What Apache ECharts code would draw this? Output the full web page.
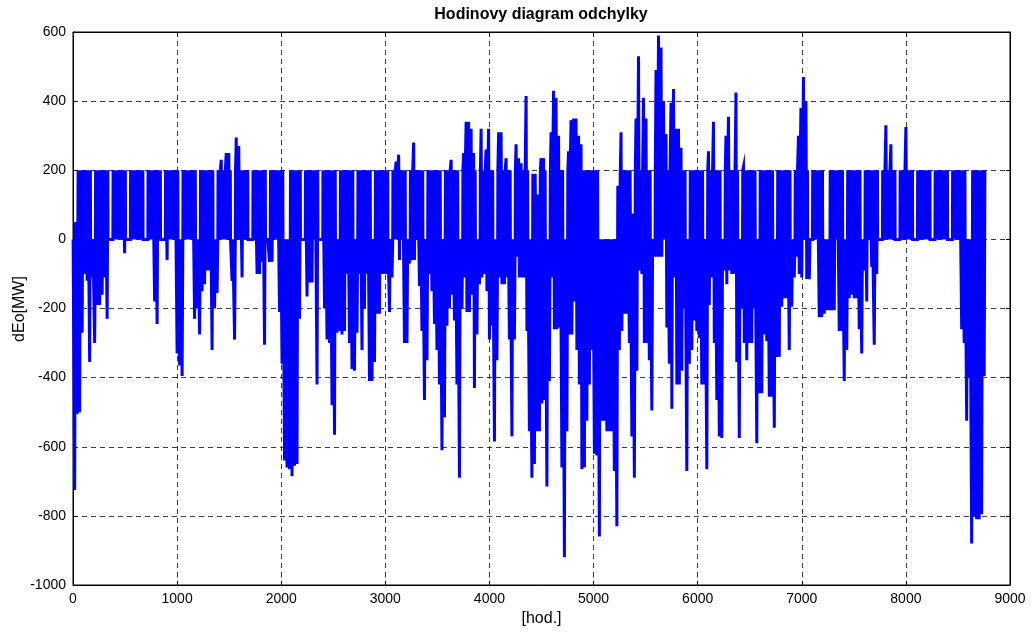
<!DOCTYPE html>
<html>
<head>
<meta charset="utf-8">
<script src="https://cdn.jsdelivr.net/npm/echarts@6/dist/echarts.min.js"></script>
<style>
  html, body { margin: 0; padding: 0; background: #fff; }
  #chart { width: 1034px; height: 633px; }
</style>
</head>
<body>
<div id="chart"></div>
<script>
// Hourly deviation over one year (8760 h), summarised per day:
// dayMax = highest value reached that day, dayMin = lowest value that day [MW].
// One row per week (Sat, Sun, Mon ... Fri).
const dayMax = [
  0, 50, 200, 200, 200, 200, 200,
  0, 0, 200, 200, 200, 200, 200,
  0, 0, 200, 200, 200, 200, 200,
  0, 0, 200, 200, 200, 200, 200,
  0, 0, 200, 200, 200, 200, 200,
  0, 0, 200, 200, 200, 200, 200,
  0, 0, 200, 200, 200, 200, 200,
  0, 0, 200, 200, 200, 200, 200,
  0, 0, 200, 230, 200, 250, 250,
  0, 0, 295, 270, 200, 200, 200,
  0, 0, 200, 200, 200, 200, 200,
  0, 0, 200, 200, 200, 200, 200,
  0, 0, 0, 200, 200, 200, 200,
  0, 0, 200, 200, 200, 200, 200,
  0, 0, 200, 200, 200, 200, 200,
  0, 0, 200, 200, 200, 200, 200,
  0, 0, 200, 200, 200, 200, 200,
  0, 0, 200, 200, 200, 200, 200,
  0, 0, 200, 225, 245, 200, 200,
  0, 0, 200, 280, 200, 200, 200,
  0, 0, 200, 200, 200, 200, 200,
  0, 0, 200, 200, 230, 200, 200,
  0, 0, 250, 340, 340, 320, 250,
  0, 0, 320, 200, 260, 320, 200,
  0, 0, 310, 310, 200, 235, 200,
  0, 0, 275, 235, 220, 200, 415,
  0, 0, 190, 130, 80, 235, 235,
  0, 0, 310, 430, 410, 300, 200,
  0, 0, 255, 345, 350, 350, 300,
  275, 200, 200, 200, 200, 200, 200,
  0, 0, 0, 0, 0, 0, 0,
  0, 155, 310, 200, 200, 200, 75,
  0, 350, 530, 200, 410, 350, 200,
  0, 0, 490, 590, 555, 400, 305,
  200, 395, 435, 320, 320, 265, 200,
  0, 0, 200, 200, 200, 200, 200,
  0, 0, 255, 200, 340, 200, 200,
  0, 0, 300, 355, 200, 200, 425,
  0, 0, 210, 200, 200, 200, 200,
  0, 0, 200, 200, 200, 200, 200,
  0, 0, 200, 200, 200, 200, 200,
  0, 0, 200, 300, 380, 470, 400,
  0, 0, 200, 200, 200, 200, 0,
  0, 0, 200, 200, 200, 200, 200,
  0, 0, 200, 200, 200, 200, 200,
  0, 0, 200, 200, 200, 0, 200,
  0, 0, 200, 330, 200, 275, 200,
  0, 0, 200, 200, 325, 200, 200,
  0, 0, 200, 200, 200, 200, 200,
  0, 0, 200, 200, 200, 200, 200,
  0, 0, 200, 200, 200, 200, 200,
  0, 0, 0, 200, 200, 200, 200,
  200
];

const dayMin = [
  -725, -505, -500, -270, -100, -120, -355,
  -110, -300, -190, -190, -160, -110, -230,
  0, 0, 0, 0, 0, 0, -40,
  0, 0, 0, 0, 0, 0, 0,
  0, 0, 0, 0, -180, -245, 0,
  0, 0, -60, 0, 0, 0, -330,
  -365, -395, 0, 0, 0, 0, -230,
  -200, -275, -150, -130, -90, -90, -320,
  -200, -155, 0, 0, 0, 0, 0,
  -120, -290, 0, 0, -110, 0, 0,
  0, 0, 0, -100, -100, -65, -305,
  0, -65, -65, 0, 0, -210, -360,
  -640, -660, -665, -685, -655, -650, -230,
  0, 0, -165, -125, -125, 0, -420,
  0, 0, -200, -290, -300, -480, -565,
  -270, -265, -275, -265, -100, -300, -375,
  -380, -270, -100, -320, -200, -100, -410,
  -410, -355, -215, -215, -100, -100, -100,
  -210, -110, 0, 0, -60, 0, -300,
  -300, -70, -60, -60, 0, -135, -265,
  -465, -350, -100, -150, -245, -320, -420,
  -610, -515, -250, -200, -160, -235, -420,
  -690, -200, -110, -210, -210, -160, -430,
  -275, -130, -110, -100, -150, -290, -250,
  -585, -350, -110, -130, -130, -110, -290,
  -570, -290, -50, -110, -110, -110, -265,
  -555, -690, -650, -555, -555, -475, -465,
  -715, -410, -110, -260, -260, -255, -660,
  -920, -555, -275, -275, -180, -320, -420,
  -665, -660, -525, -420, -320, -620, -625,
  -860, -525, -525, -555, -555, -555, -670,
  -830, -320, -265, -215, -215, -300, -570,
  -690, -380, -90, -100, -300, -300, -350,
  -495, -50, -50, -50, -50, 0, -255,
  -360, -490, -110, -420, -420, -380, -200,
  -670, -360, -320, -235, -265, -285, -420,
  -420, -665, -190, -110, -300, -465, -570,
  -575, -90, -130, -90, -100, -100, -355,
  -575, -200, -300, -350, -300, -300, -200,
  -590, -445, -445, -275, -295, -455, -455,
  -545, -340, -340, -195, -170, -170, -320,
  -195, -110, -50, -100, -110, 0, -115,
  -115, 0, 0, 0, -225, -225, -215,
  -205, -205, -205, -205, 0, -265, -265,
  -410, -320, -170, -160, -170, -170, -260,
  -330, -90, -180, 0, -80, -305, -100,
  0, 0, 0, 0, 0, 0, 0,
  0, 0, 0, 0, 0, 0, 0,
  0, 0, 0, 0, 0, 0, 0,
  0, 0, 0, 0, 0, 0, 0,
  0, 0, 0, 0, 0, -260, -300,
  -525, -400, -880, -800, -810, -810, -795,
  -395
];

const xTicks = { min: 0, max: 9000, step: 1000 };
const yTicks = { min: -1000, max: 600, step: 200 };
const regulationBand = 200;   // upper level the working-day deviation runs at

// Each day becomes a short stroke: band level -> daily max -> daily min -> band level
const path = [];
dayMax.forEach((top, d) => {
  const h = d * 24;
  const base = Math.min(top, regulationBand);
  path.push([h + 1, base], [h + 8, top], [h + 16, dayMin[d]], [h + 23, base]);
});

const font = 'Liberation Sans, Arial, Helvetica, sans-serif';
const gridDash = { color: '#3a3a3a', type: [5, 4], width: 1 };
const tickStyle = { color: '#000', width: 1 };
const plain = v => String(v);

const frameAxis = (pos) => ({
  type: 'value', position: pos,
  axisLine: { show: true, onZero: false, lineStyle: tickStyle },
  axisTick: { show: true, inside: true, length: 4, lineStyle: tickStyle },
  axisLabel: { show: false }, splitLine: { show: false }
});

const chart = echarts.init(document.getElementById('chart'), null, { renderer: 'canvas' });
chart.setOption({
  animation: false,
  backgroundColor: '#fff',
  graphic: [{
    type: 'text', x: 541, y: 15,
    style: {
      text: 'Hodinovy diagram odchylky',
      font: 'bold 16px ' + font, fill: '#000',
      textAlign: 'center', textVerticalAlign: 'middle'
    }
  }, {
    type: 'text', x: 20, y: 309, rotation: Math.PI / 2,
    style: {
      text: 'dEo[MW]',
      font: '16px ' + font, fill: '#000',
      textAlign: 'center', textVerticalAlign: 'middle'
    }
  }],
  grid: {
    left: 73, right: 24, top: 32, bottom: 48,
    containLabel: false, outerBoundsMode: 'none',
    show: true, borderColor: '#000', borderWidth: 1
  },
  xAxis: [{
    type: 'value', min: xTicks.min, max: xTicks.max, interval: xTicks.step,
    axisLine: { show: true, onZero: false, lineStyle: tickStyle },
    axisTick: { show: true, inside: true, length: 4, lineStyle: tickStyle },
    axisLabel: { color: '#000', fontSize: 14, fontFamily: font, margin: 7, formatter: plain },
    splitLine: { show: true, lineStyle: gridDash },
    name: '[hod.]', nameLocation: 'middle', nameGap: 24,
    nameTextStyle: { color: '#000', fontSize: 16, fontFamily: font }
  }, Object.assign(frameAxis('top'), { min: xTicks.min, max: xTicks.max, interval: xTicks.step })],
  yAxis: [{
    type: 'value', min: yTicks.min, max: yTicks.max, interval: yTicks.step,
    axisLine: { show: true, onZero: false, lineStyle: tickStyle },
    axisTick: { show: true, inside: true, length: 4, lineStyle: tickStyle },
    axisLabel: { color: '#000', fontSize: 14, fontFamily: font, margin: 7, formatter: plain },
    splitLine: { show: true, lineStyle: gridDash }
  }, Object.assign(frameAxis('right'), { min: yTicks.min, max: yTicks.max, interval: yTicks.step })],
  series: [{
    type: 'line',
    xAxisIndex: 0, yAxisIndex: 0,
    data: path,
    showSymbol: false, symbol: 'none',
    lineStyle: { color: '#0000ff', width: 3, join: 'miter' },
    silent: true
  }]
});
</script>
</body>
</html>
